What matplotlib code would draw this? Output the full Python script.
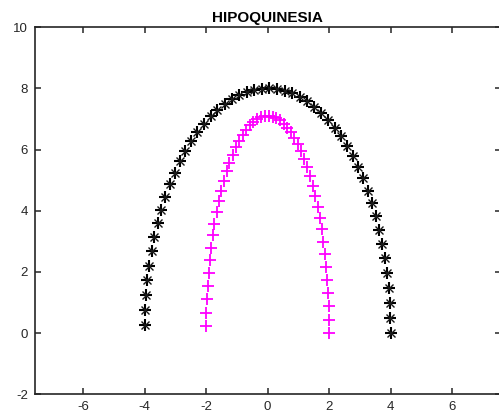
import matplotlib
matplotlib.use("Agg")
import matplotlib.pyplot as plt

black_x = [4.00, 3.99, 3.97, 3.93, 3.88, 3.81, 3.72, 3.63, 3.52, 3.39,
           3.25, 3.10, 2.94, 2.76, 2.58, 2.38, 2.18, 1.96, 1.74, 1.52,
           1.28, 1.05, 0.80, 0.56, 0.31, 0.06, -0.19, -0.43, -0.68, -0.92,
           -1.16, -1.40, -1.63, -1.85, -2.07, -2.28, -2.48, -2.67, -2.85, -3.02,
           -3.18, -3.32, -3.45, -3.57, -3.68, -3.77, -3.84, -3.91, -3.95, -3.98,
           -4.00]
black_y = [0.00, 0.50, 0.99, 1.48, 1.97, 2.45, 2.92, 3.37, 3.82, 4.25,
           4.66, 5.06, 5.43, 5.79, 6.12, 6.43, 6.71, 6.97, 7.20, 7.40,
           7.58, 7.72, 7.84, 7.92, 7.98, 8.00, 7.99, 7.95, 7.88, 7.78,
           7.65, 7.49, 7.31, 7.09, 6.85, 6.57, 6.28, 5.96, 5.62, 5.25,
           4.86, 4.46, 4.04, 3.60, 3.15, 2.69, 2.21, 1.73, 1.24, 0.75,
           0.25]

magenta_x = [2.00, 2.00, 1.98, 1.97, 1.94, 1.90, 1.86, 1.81, 1.76, 1.69,
             1.63, 1.55, 1.47, 1.38, 1.29, 1.19, 1.09, 0.98, 0.87, 0.76,
             0.64, 0.52, 0.40, 0.28, 0.16, 0.03, -0.09, -0.22, -0.34, -0.46,
             -0.58, -0.70, -0.81, -0.93, -1.04, -1.14, -1.24, -1.33, -1.42, -1.51,
             -1.59, -1.66, -1.73, -1.79, -1.84, -1.88, -1.92, -1.95, -1.98, -1.99,
             -2.00]
magenta_y = [0.00, 0.44, 0.88, 1.32, 1.75, 2.17, 2.59, 2.99, 3.39, 3.77,
             4.14, 4.49, 4.82, 5.14, 5.43, 5.70, 5.96, 6.18, 6.39, 6.57,
             6.72, 6.85, 6.96, 7.03, 7.08, 7.10, 7.09, 7.06, 7.00, 6.91,
             6.79, 6.65, 6.48, 6.29, 6.08, 5.84, 5.57, 5.29, 4.98, 4.66,
             4.32, 3.96, 3.58, 3.20, 2.80, 2.38, 1.97, 1.54, 1.10, 0.67,
             0.22]

x_ticks = [-6, -4, -2, 0, 2, 4, 6]
y_ticks = [-2, 0, 2, 4, 6, 8, 10]
title = "HIPOQUINESIA"

plt.rcParams['font.family'] = ['Liberation Sans', 'DejaVu Sans']
plt.rcParams['axes.unicode_minus'] = False

fig = plt.figure(figsize=(4.99, 4.19), dpi=100)
W, H = 499, 419
left, right, bottom, top = 34.7, 500.5, 394.3, 27.3
ax = fig.add_axes([left / W, (H - bottom) / H, (right - left) / W, (bottom - top) / H])

# MATLAB-style asterisk: bold plus with thinner diagonals
ax.plot(black_x, black_y, linestyle='none', marker='+', markersize=8,
        markeredgewidth=1.5, color='black')
ax.plot(black_x, black_y, linestyle='none', marker='x', markersize=6,
        markeredgewidth=1.0, color='#1a1a1a')
ax.plot(magenta_x, magenta_y, linestyle='none', marker='+', markersize=8,
        markeredgewidth=1.3, color='#ff00ff')

ax.set_xlim(-7.57, 7.57)
ax.set_ylim(-2, 10)
ax.set_xticks(x_ticks)
ax.set_yticks(y_ticks)
ax.tick_params(direction='in', length=4.5, width=1.1, colors='#262626',
               labelsize=9.5, top=True, right=True, pad=5)
for s in ax.spines.values():
    s.set_linewidth(1.2)
    s.set_color('#262626')
ax.set_title(title, fontsize=11, fontweight='bold', pad=4)

fig.savefig("out.png", dpi=100)
